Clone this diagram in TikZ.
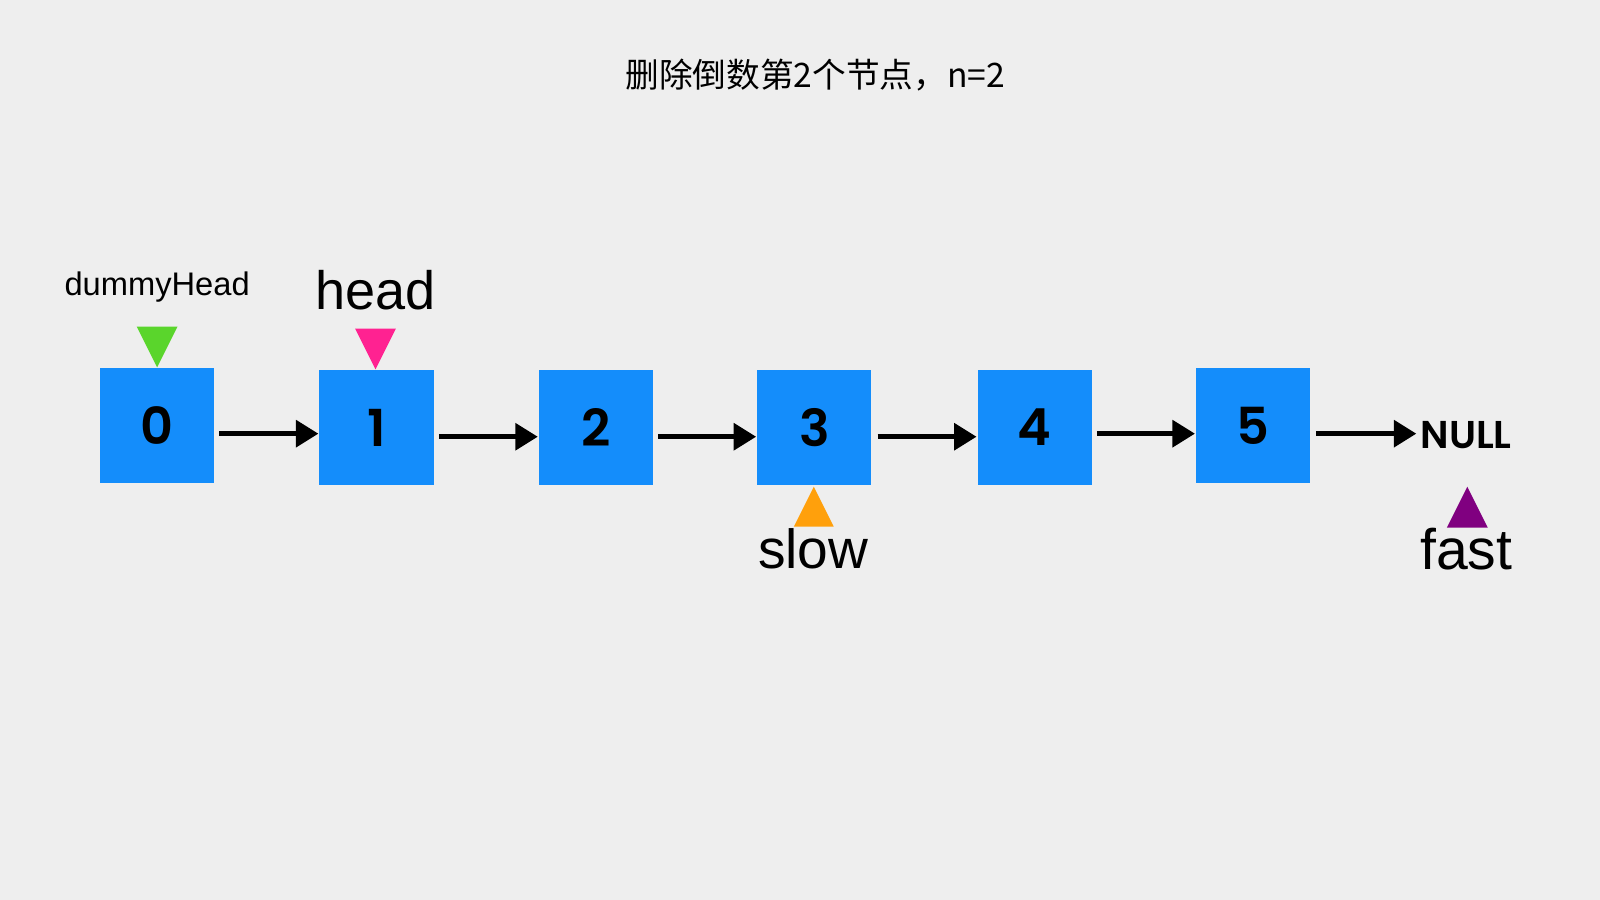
\documentclass[tikz,border=0pt]{standalone}
\usepackage{fontspec}
\setmainfont{Liberation Sans}
\newfontfamily\cjkfont{Noto Sans CJK SC}
\newfontfamily\popfont{Poppins SemiBold}
\usetikzlibrary{arrows.meta,calc}
\definecolor{bg}{HTML}{EEEEEE}
\definecolor{boxblue}{HTML}{148DFB}
\definecolor{tgreen}{HTML}{5AD52C}
\definecolor{tpink}{HTML}{FF2291}
\definecolor{torange}{HTML}{FFA00C}
\definecolor{tpurple}{HTML}{800080}
\begin{document}
\begin{tikzpicture}[x=1pt,y=-1pt,
  listbox/.style={fill=boxblue,minimum width=112pt,minimum height=112pt,inner sep=0pt,
    font=\popfont\fontsize{50}{50}\selectfont,text=black},
  arr/.style={line width=4.5pt,-{Triangle[length=22pt,width=26pt]}}]
\fill[bg] (0,0) rectangle (1568,882);
\useasboundingbox (0,0) rectangle (1568,882);
\node[font=\cjkfont\fontsize{33}{33}\selectfont] (title) at (799,74) {删除倒数第2个节点，n=2};
\node[listbox] (b0) at (154,417) {0};
\node[listbox] (b1) at (369,419) {1};
\node[listbox] (b2) at (584,419) {2};
\node[listbox] (b3) at (798,419) {3};
\node[listbox] (b4) at (1014,419) {4};
\node[listbox] (b5) at (1228,417) {5};
\node[font=\popfont\fontsize{38}{38}\selectfont,inner sep=0pt,anchor=west] (null) at (1392,426) {NULL};
% arrow end points
\coordinate (s0) at (215,425); \coordinate (e0) at (312,425);
\coordinate (s1) at (430,428); \coordinate (e1) at (527,428);
\coordinate (s2) at (645,428); \coordinate (e2) at (741,428);
\coordinate (s3) at (860,428); \coordinate (e3) at (957,428);
\coordinate (s4) at (1075,425); \coordinate (e4) at (1171,425);
\coordinate (s5) at (1290,425); \coordinate (e5) at (1388,425);
\foreach \i in {0,...,5}{
  \draw[arr] (s\i) -- (e\i);
}
% pointers
\node[font=\fontsize{32}{32}\selectfont] (dummy) at (154,281) {dummyHead};
\fill[tgreen] (134,320) -- (174,320) -- (154,360) -- cycle;
\node[font=\fontsize{53}{53}\selectfont] (headlbl) at (368,284) {head};
\fill[tpink] (348,322) -- (388,322) -- (368,362) -- cycle;
\fill[torange] (778,516) -- (817,516) -- (797.5,477) -- cycle;
\node[font=\fontsize{54}{54}\selectfont] (slow) at (797,538) {slow};
\fill[tpurple] (1418,517) -- (1458,517) -- (1438,477) -- cycle;
\node[font=\fontsize{56}{56}\selectfont] (fast) at (1437,538) {fast};
\end{tikzpicture}
\end{document}
